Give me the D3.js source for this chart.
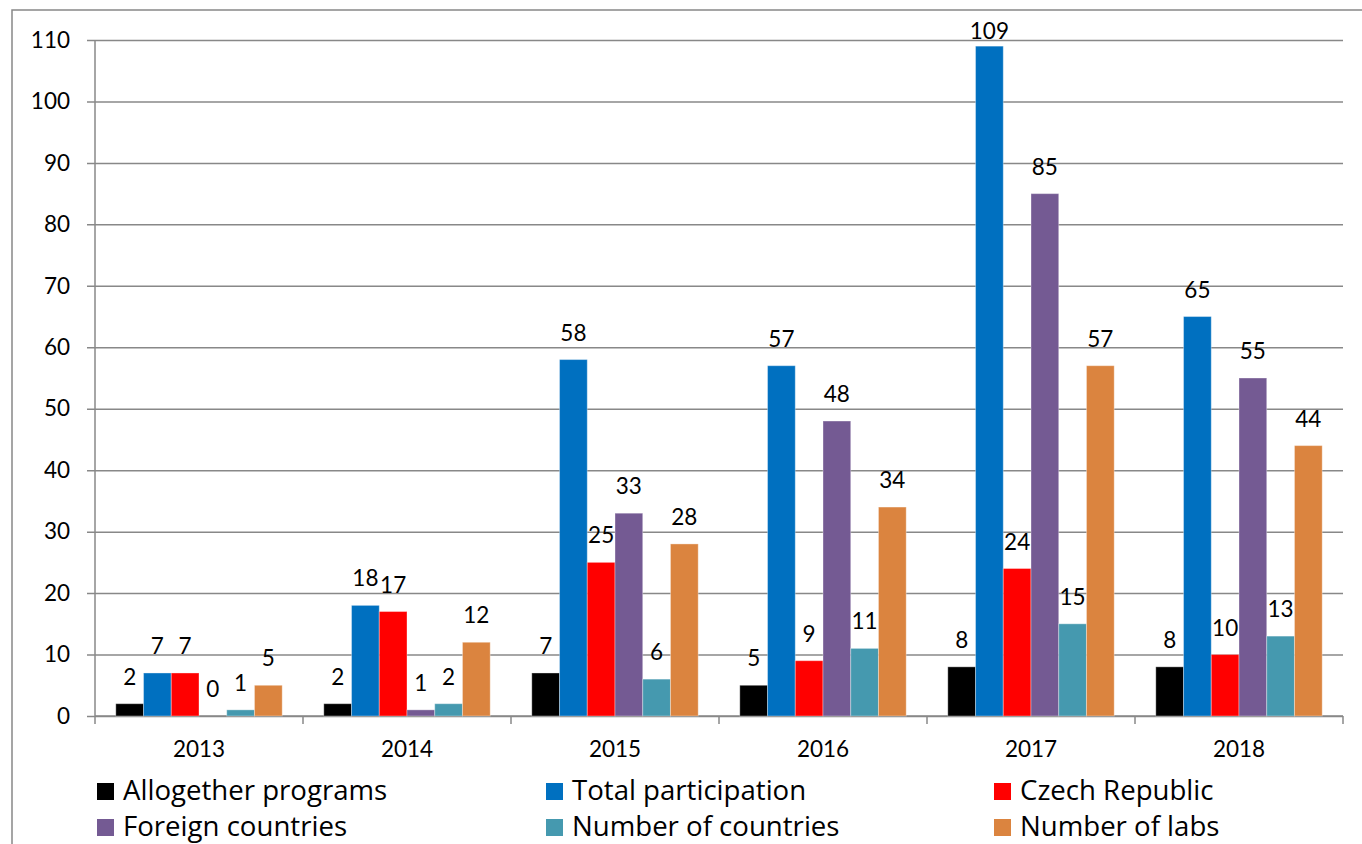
<!DOCTYPE html>
<html>
<head>
<meta charset="utf-8">
<script src="https://cdn.jsdelivr.net/npm/d3@7"></script>
<style>
  html, body { margin: 0; padding: 0; background: #fff; }
  svg { display: block; font-family: Lato, "Open Sans", sans-serif; }
</style>
</head>
<body>
<svg id="chart" width="1362" height="844"></svg>
<script>
const years = ["2013", "2014", "2015", "2016", "2017", "2018"];
const seriesNames = ["Allogether programs", "Total participation", "Czech Republic",
                     "Foreign countries", "Number of countries", "Number of labs"];
const seriesColors = ["#000000", "#0070C0", "#FF0000", "#745A93", "#4599AF", "#DB843F"];
const allogetherPrograms = [2, 2, 7, 5, 8, 8];
const totalParticipation = [7, 18, 58, 57, 109, 65];
const czechRepublic = [7, 17, 25, 9, 24, 10];
const foreignCountries = [0, 1, 33, 48, 85, 55];
const numberOfCountries = [1, 2, 6, 11, 15, 13];
const numberOfLabs = [5, 12, 28, 34, 57, 44];
const yTicks = [0, 10, 20, 30, 40, 50, 60, 70, 80, 90, 100, 110];

const seriesValues = [allogetherPrograms, totalParticipation, czechRepublic,
                      foreignCountries, numberOfCountries, numberOfLabs];

(function () {
const svg = d3.select("#chart");
const pLeft = 95, pRight = 1343, pTop = 40, pBottom = 716;
const gridColor = "#888888";

// outer frame
svg.append("rect").attr("x", 12).attr("y", 10).attr("width", 1400).attr("height", 900)
  .attr("fill", "none").attr("stroke", gridColor).attr("stroke-width", 1.5);

const y = d3.scaleLinear().domain([0, 110]).range([pBottom, pTop]);
const x0 = d3.scaleBand().domain(years).range([pLeft, pRight]).padding(0);
const bw = x0.bandwidth();
const x1 = d3.scaleBand().domain(seriesNames).range([bw * 0.1, bw * 0.9]).padding(0);

// gridlines + y tick labels via axis
const yAxis = d3.axisLeft(y).tickValues(yTicks).tickSize(0).tickPadding(25)
  .tickFormat(d3.format("d"));
const gy = svg.append("g").attr("transform", `translate(${pLeft},0)`).call(yAxis);
gy.select(".domain").remove();
gy.selectAll(".tick line").attr("stroke", gridColor).attr("stroke-width", 1.5)
  .attr("x1", -8).attr("x2", pRight - pLeft);
gy.selectAll(".tick text").attr("font-size", 22.5).attr("fill", "#000")
  .attr("font-family", "Lato, sans-serif");

// y axis line
svg.append("line").attr("x1", pLeft).attr("x2", pLeft).attr("y1", pTop).attr("y2", pBottom)
  .attr("stroke", gridColor).attr("stroke-width", 1.5);

// x axis with boundary ticks
svg.append("line").attr("x1", pLeft).attr("x2", pRight).attr("y1", pBottom).attr("y2", pBottom)
  .attr("stroke", gridColor).attr("stroke-width", 1.5);
const boundaries = years.map(yv => x0(yv)).concat([pRight]);
svg.append("g").selectAll("line").data(boundaries).join("line")
  .attr("x1", d => d).attr("x2", d => d).attr("y1", pBottom).attr("y2", pBottom + 8)
  .attr("stroke", gridColor).attr("stroke-width", 1.5);
svg.append("g").selectAll("text").data(years).join("text")
  .attr("x", d => x0(d) + bw / 2).attr("y", 757)
  .attr("text-anchor", "middle").attr("font-size", 22.5).attr("fill", "#000").text(d => d);

// bars
const flat = [];
years.forEach((yr, i) => {
  seriesNames.forEach((s, j) => {
    flat.push({ year: yr, series: s, value: seriesValues[j][i], color: seriesColors[j] });
  });
});

svg.append("g").selectAll("rect").data(flat).join("rect")
  .attr("x", d => x0(d.year) + x1(d.series))
  .attr("y", d => y(d.value))
  .attr("width", x1.bandwidth())
  .attr("height", d => pBottom - y(d.value))
  .attr("fill", d => d.color)
  .attr("stroke", "rgba(255,255,255,0.35)").attr("stroke-width", 1);

// data labels
svg.append("g").selectAll("text").data(flat).join("text")
  .attr("x", d => x0(d.year) + x1(d.series) + x1.bandwidth() / 2)
  .attr("y", d => Math.max(y(d.value) - 19, pTop - 1))
  .attr("text-anchor", "middle").attr("font-size", 22.5).attr("fill", "#000")
  .text(d => d.value);

// legend
const legendCols = [97, 546, 994];
const legendRows = [800, 836];
const lg = svg.append("g").selectAll("g").data(seriesNames).join("g")
  .attr("transform", (d, i) => `translate(${legendCols[i % 3]},${legendRows[Math.floor(i / 3)]})`);
lg.append("rect").attr("x", 0).attr("y", -17).attr("width", 17).attr("height", 17)
  .attr("fill", (d, i) => seriesColors[i]);
lg.append("text").attr("x", 26).attr("y", 0).attr("font-size", 27.6)
  .attr("font-family", "'Open Sans', sans-serif").attr("fill", "#000")
  .text(d => d);
})();
</script>
</body>
</html>
